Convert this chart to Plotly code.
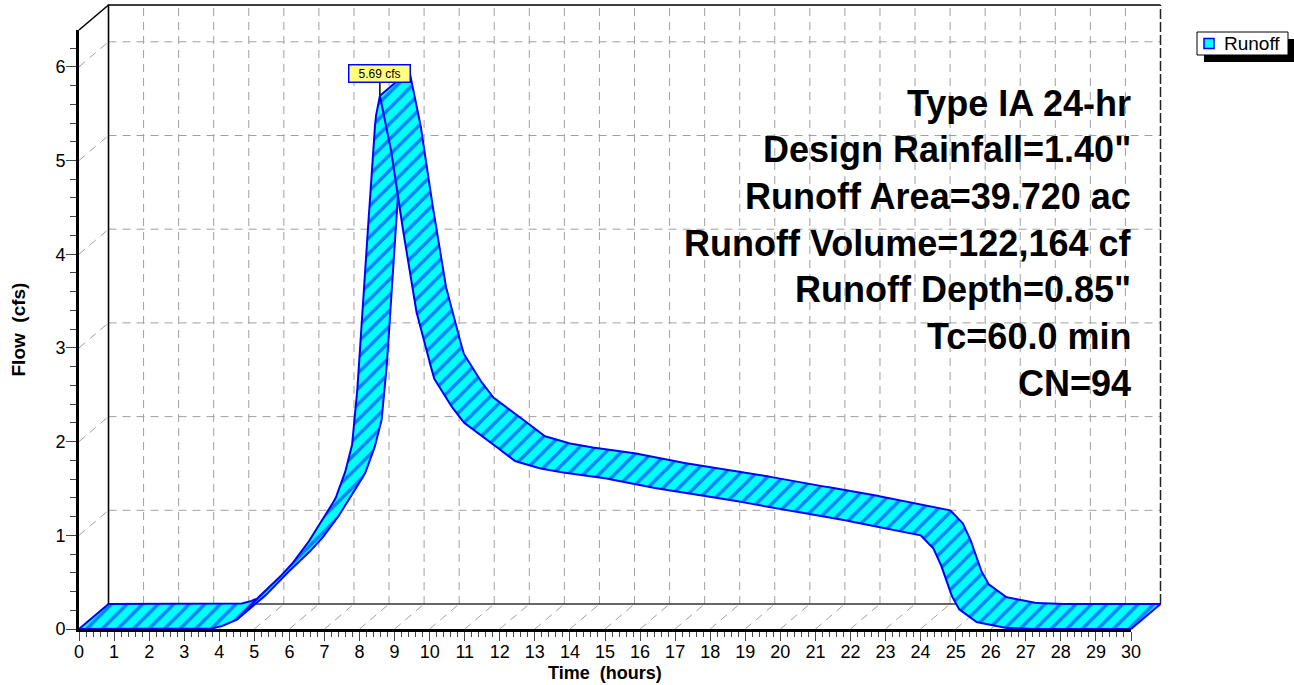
import plotly.graph_objects as go

# ---------------- data ----------------
time_hr = [0.0, 3.7, 4.0, 4.5, 5.0, 5.5, 6.0, 6.5, 6.9, 7.3,
           7.55, 7.78, 7.87, 7.96, 8.1, 8.24, 8.38, 8.45, 8.58, 8.87,
           9.1, 9.38, 9.58, 9.87, 10.1, 10.5, 10.95, 11.35, 11.8, 12.38,
           12.95, 13.6, 14.86, 16.0, 16.85, 18.28, 19.8, 21.3, 22.8, 24.0,
           24.35, 24.55, 24.7, 24.85, 25.1, 25.6, 26.3, 27.0, 30.0]
flow_cfs = [0.0, 0.0, 0.02, 0.10, 0.30, 0.47, 0.66, 0.90, 1.15, 1.38,
            1.62, 1.94, 2.26, 2.66, 3.51, 4.29, 4.97, 5.44, 5.69, 5.19,
            4.58, 3.94, 3.44, 3.05, 2.69, 2.44, 2.21, 2.10, 1.98, 1.80,
            1.73, 1.68, 1.62, 1.53, 1.48, 1.40, 1.29, 1.20, 1.09, 1.00,
            0.87, 0.72, 0.55, 0.38, 0.21, 0.075, 0.015, 0.0, 0.0]
x_ticks = list(range(0, 31))
y_ticks = list(range(0, 7))
series_name = "Runoff"
info_lines = ["Type IA 24-hr", 'Design Rainfall=1.40"', "Runoff Area=39.720 ac",
              "Runoff Volume=122,164 cf", 'Runoff Depth=0.85"', "Tc=60.0 min", "CN=94"]
x_title = "Time\u00a0 (hours)"
y_title = "Flow\u00a0 (cfs)"

# ---------------- geometry / style ----------------
W, H = 1294, 685
FONT = "Arial, Liberation Sans, sans-serif"
X0_PX, X30_PX = 79, 1131
Y0_PX, YTOP_PX = 629, 30
PX_PER_Q = 93.7
DEPTH_PX = (29.5, 25.0)
BLUE, CYAN, GRID = "#0000FF", "#00FFFF", "#A0A0A0"

px_per_h = (X30_PX - X0_PX) / 30.0
xmax = 30.0
ymax = (Y0_PX - YTOP_PX) / PX_PER_Q
dx = DEPTH_PX[0] / px_per_h
dy = DEPTH_PX[1] / PX_PER_Q
full_xr = [-X0_PX / px_per_h, (W - X0_PX) / px_per_h]
full_yr = [-(H - Y0_PX) / PX_PER_Q, Y0_PX / PX_PER_Q]

fig = go.Figure()


def lines_trace(segs, color, width, dash=None):
    xs, ys = [], []
    for seg in segs:
        for p in seg:
            xs.append(p[0]); ys.append(p[1])
        xs.append(None); ys.append(None)
    return go.Scatter(x=xs, y=ys, mode="lines", xaxis="x", yaxis="y",
                      line=dict(color=color, width=width, dash=dash),
                      hoverinfo="skip", showlegend=False)


# back-plane grid
grid = []
for k in x_ticks[1:-1]:
    grid.append([(k + dx, dy), (k + dx, ymax + dy)])
    grid.append([(k, 0), (k + dx, dy)])
for j in y_ticks[1:]:
    grid.append([(dx, j + dy), (xmax + dx, j + dy)])
    grid.append([(0, j), (dx, j + dy)])
fig.add_trace(lines_trace(grid, GRID, 1, "8px,6px"))

# frame
fig.add_trace(lines_trace([[(dx, dy), (xmax + dx, dy)]], "#333333", 1.5))
fig.add_trace(lines_trace([[(xmax + dx, dy), (xmax + dx, ymax + dy)]], "#222222", 1.5, "10px,3px"))
fig.add_trace(lines_trace([[(dx, dy), (dx, ymax + dy), (xmax + dx, ymax + dy)],
                           [(0, ymax), (dx, ymax + dy)]], "black", 1.6))

# ---------------- ribbon ----------------
F = list(zip(time_hr, flow_cfs))
B = [(t + dx, q + dy) for t, q in F]
n = len(F)
quads = [[F[i], F[i + 1], B[i + 1], B[i]] for i in range(n - 1)]


def to_px(p):
    return (p[0] * px_per_h, p[1] * PX_PER_Q)


def area(poly):
    P = [to_px(p) for p in poly]
    return 0.5 * sum(P[k][0] * P[(k + 1) % len(P)][1] - P[(k + 1) % len(P)][0] * P[k][1]
                     for k in range(len(P)))


def inside(pt, poly):
    x, y = to_px(pt)
    P = [to_px(p) for p in poly]
    c = False
    for k in range(len(P)):
        x1, y1 = P[k]
        x2, y2 = P[k - 1]
        if (y1 > y) != (y2 > y):
            xi = x1 + (y - y1) * (x2 - x1) / (y2 - y1)
            if x < xi:
                c = not c
    return c


fx, fy = [], []
for qd in quads:
    pts = qd if area(qd) >= 0 else qd[::-1]
    for p in pts:
        fx.append(p[0]); fy.append(p[1])
    fx.append(None); fy.append(None)
fig.add_trace(go.Scatter(x=fx, y=fy, mode="none", fill="toself", fillcolor=CYAN, name=series_name,
                         fillpattern=dict(shape="/", fgcolor=BLUE, bgcolor=CYAN, size=11, solidity=0.3),
                         xaxis="x", yaxis="y", hoverinfo="skip", showlegend=False))

M = 12


def lerp(a, b, s):
    return (a[0] + (b[0] - a[0]) * s, a[1] + (b[1] - a[1]) * s)


def visible_path(pts, start_js):
    """painter's order: a piece is hidden if a later quad covers it"""
    xs, ys = [], []
    cur = False
    for i in range(len(pts) - 1):
        p0, p1 = pts[i], pts[i + 1]
        for s in range(M):
            pa, pb = lerp(p0, p1, s / M), lerp(p0, p1, (s + 1) / M)
            mid = lerp(p0, p1, (s + 0.5) / M)
            vis = not any(inside(mid, quads[j]) for j in range(start_js[i], len(quads)))
            if vis:
                if not cur:
                    xs.append(pa[0]); ys.append(pa[1])
                xs.append(pb[0]); ys.append(pb[1])
                cur = True
            elif cur:
                xs.append(None); ys.append(None)
                cur = False
    xs.append(None); ys.append(None)
    return xs, ys


ex, ey = [], []
for curve in (F, B):
    a, b = visible_path(curve, [i + 1 for i in range(n - 1)])
    ex += a; ey += b


def cross_d(v):
    return (dx * px_per_h) * (v[1] * PX_PER_Q) - (dy * PX_PER_Q) * (v[0] * px_per_h)


side_idx = [0, n - 1]
for i in range(1, n - 1):
    v1 = (F[i - 1][0] - F[i][0], F[i - 1][1] - F[i][1])
    v2 = (F[i + 1][0] - F[i][0], F[i + 1][1] - F[i][1])
    if cross_d(v1) * cross_d(v2) > 0:
        side_idx.append(i)
for i in side_idx:
    a, b = visible_path([F[i], B[i]], [min(i + 1, len(quads))])
    ex += a; ey += b
fig.add_trace(go.Scatter(x=ex, y=ey, mode="lines", xaxis="x", yaxis="y",
                         line=dict(color=BLUE, width=2), hoverinfo="skip", showlegend=False))

# front axes carrier (invisible)
fig.add_trace(go.Scatter(x=[0, 30], y=[0, 0], mode="lines", xaxis="x2", yaxis="y2",
                         line=dict(width=0), hoverinfo="skip", showlegend=False))

# ---------------- annotations ----------------
ipk = max(range(n), key=lambda i: flow_cfs[i])
annotations = [dict(x=time_hr[ipk], y=flow_cfs[ipk], xref="x", yref="y",
                    text=f"{flow_cfs[ipk]:.2f} cfs", showarrow=True, arrowhead=0,
                    arrowwidth=1.5, arrowcolor="black", ax=0, ay=-22,
                    bgcolor="#FFFF80", bordercolor=BLUE, borderwidth=1.5, borderpad=1,
                    width=58, font=dict(family=FONT, size=12, color="black"))]
for k, line in enumerate(info_lines):
    ypx = 103 + 46.7 * k
    annotations.append(dict(x=1133 / W, y=1 - ypx / H, xref="paper", yref="paper",
                            xanchor="right", yanchor="middle", showarrow=False,
                            text=f"<b>{line}</b>", font=dict(family=FONT, size=36, color="black")))
# axis titles
annotations.append(dict(x=(X0_PX + X30_PX) / 2 / W, y=1 - 673 / H, xref="paper", yref="paper",
                        xanchor="center", yanchor="middle", showarrow=False,
                        text=f"<b>{x_title}</b>", font=dict(family=FONT, size=18, color="black")))
annotations.append(dict(x=18 / W, y=1 - (Y0_PX + YTOP_PX) / 2 / H, xref="paper", yref="paper",
                        xanchor="center", yanchor="middle", showarrow=False, textangle=-90,
                        text=f"<b>{y_title}</b>", font=dict(family=FONT, size=19, color="black")))

# legend (box with drop shadow)
LG = dict(x0=1197, x1=1288, y0=32, y1=55, sh=7)
lg_cy = (LG["y0"] + LG["y1"]) / 2
shapes = [
    dict(type="rect", xref="paper", yref="paper",
         x0=(LG["x0"] + LG["sh"]) / W, x1=(LG["x1"] + LG["sh"]) / W,
         y0=1 - (LG["y1"] + LG["sh"]) / H, y1=1 - (LG["y0"] + LG["sh"]) / H,
         fillcolor="black", line=dict(width=0), layer="above"),
    dict(type="rect", xref="paper", yref="paper",
         x0=LG["x0"] / W, x1=LG["x1"] / W, y0=1 - LG["y1"] / H, y1=1 - LG["y0"] / H,
         fillcolor="white", line=dict(color="black", width=1), layer="above"),
    dict(type="rect", xref="paper", yref="paper",
         x0=(LG["x0"] + 7) / W, x1=(LG["x0"] + 17) / W,
         y0=1 - (lg_cy + 5) / H, y1=1 - (lg_cy - 5) / H,
         fillcolor=CYAN, line=dict(color=BLUE, width=1.5), layer="above"),
]
annotations.append(dict(x=(LG["x0"] + 25) / W, y=1 - lg_cy / H,
                        xref="paper", yref="paper", xanchor="left", yanchor="middle",
                        showarrow=False, text=series_name,
                        font=dict(family=FONT, size=19, color="black")))

fig.update_layout(
    width=W, height=H, margin=dict(l=0, r=0, t=0, b=0, autoexpand=False),
    paper_bgcolor="white", plot_bgcolor="rgba(0,0,0,0)",
    font=dict(family=FONT, color="black"),
    showlegend=False,
    xaxis=dict(domain=[0, 1], range=full_xr, visible=False, fixedrange=True, automargin=False),
    yaxis=dict(domain=[0, 1], range=full_yr, visible=False, fixedrange=True, automargin=False),
    xaxis2=dict(domain=[X0_PX / W, X30_PX / W], range=[0, xmax], anchor="y2", automargin=False,
                tickvals=x_ticks, ticks="outside", ticklen=9, tickwidth=1, tickcolor="#444444",
                showline=True, linewidth=3, linecolor="black", showgrid=False, zeroline=False,
                minor=dict(dtick=0.2, ticks="outside", ticklen=5, tickcolor="#444444", showgrid=False),
                tickfont=dict(size=18, family=FONT, color="black"), ticklabelstandoff=-5,
                fixedrange=True),
    yaxis2=dict(domain=[(H - Y0_PX) / H, (H - YTOP_PX) / H], range=[0, ymax], anchor="x2",
                automargin=False,
                tickvals=y_ticks, ticks="outside", ticklen=10, tickwidth=1, tickcolor="#444444",
                showline=True, linewidth=3, linecolor="black", showgrid=False, zeroline=False,
                minor=dict(dtick=0.2, ticks="outside", ticklen=6, tickcolor="#444444", showgrid=False),
                tickfont=dict(size=18, family=FONT, color="black"), ticklabelstandoff=-3,
                fixedrange=True),
    annotations=annotations, shapes=shapes,
)

fig.write_html("out.html", config={"displayModeBar": False},
               post_script="document.body.style.margin='0';")
